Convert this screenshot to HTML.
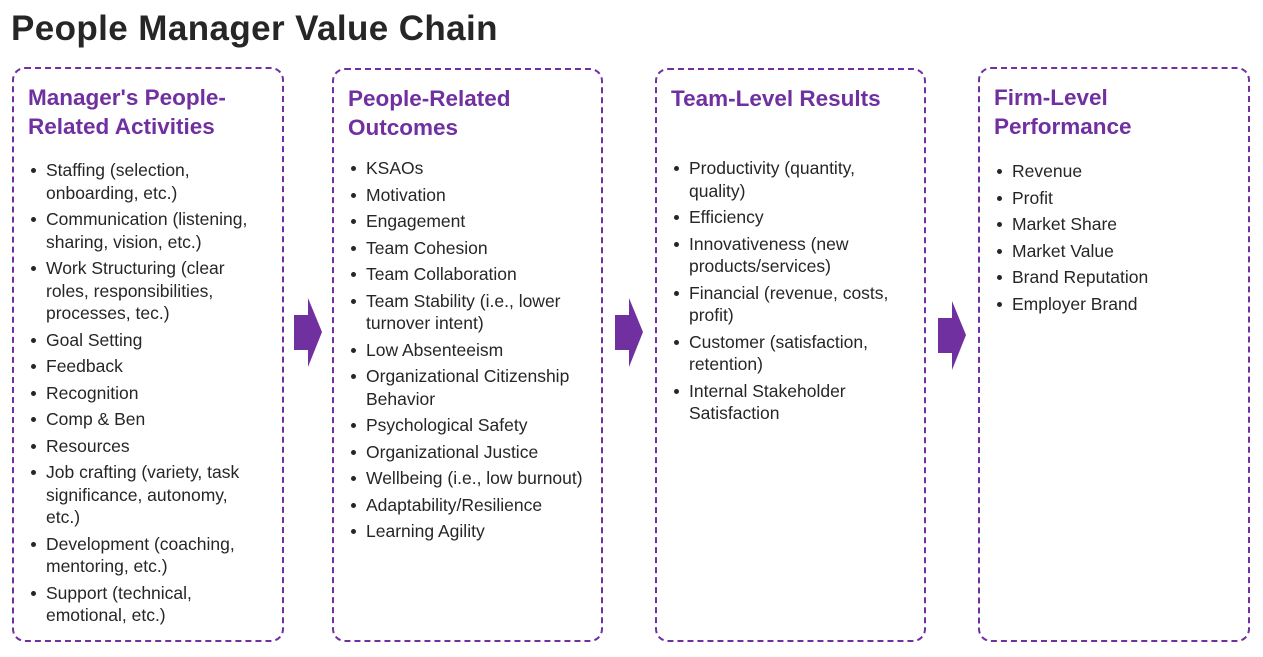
<!DOCTYPE html>
<html><head><meta charset="utf-8">
<style>
body{margin:0;width:1263px;height:657px;background:#fff;position:relative;overflow:hidden;font-family:"Liberation Sans",sans-serif;}
#title{position:absolute;left:11px;top:9px;font-size:35px;font-weight:bold;color:#262626;letter-spacing:0.4px;white-space:nowrap;}
.box{position:absolute;top:67px;height:571px;width:268px;border:2px dashed #7030A0;border-radius:13px;box-sizing:content-box;}
.box h2{position:absolute;left:14px;top:14px;margin:0;font-size:22.5px;line-height:29px;font-weight:bold;color:#7030A0;white-space:nowrap;}
.box ul{position:absolute;left:0;margin:0;padding:0;list-style:none;}
.box li{position:relative;padding-left:32px;font-size:17.5px;line-height:22.5px;color:#262626;white-space:nowrap;margin-bottom:4px;}
.box li::before{content:"";position:absolute;left:17px;top:9px;width:5px;height:5px;border-radius:50%;background:#262626;}
.arrow{position:absolute;}
</style></head><body>
<div id="title">People Manager Value Chain</div>

<div class="box" style="left:12px">
<h2>Manager's People-<br>Related Activities</h2>
<ul style="top:90px">
<li>Staffing (selection,<br>onboarding, etc.)</li>
<li>Communication (listening,<br>sharing, vision, etc.)</li>
<li>Work Structuring (clear<br>roles, responsibilities,<br>processes, tec.)</li>
<li>Goal Setting</li>
<li>Feedback</li>
<li>Recognition</li>
<li>Comp &amp; Ben</li>
<li>Resources</li>
<li>Job crafting (variety, task<br>significance, autonomy,<br>etc.)</li>
<li>Development (coaching,<br>mentoring, etc.)</li>
<li>Support (technical,<br>emotional, etc.)</li>
</ul></div>

<div class="box" style="left:332px;top:68px;height:570px;width:267px">
<h2>People-Related<br>Outcomes</h2>
<ul style="top:87px">
<li>KSAOs</li>
<li>Motivation</li>
<li>Engagement</li>
<li>Team Cohesion</li>
<li>Team Collaboration</li>
<li>Team Stability (i.e., lower<br>turnover intent)</li>
<li>Low Absenteeism</li>
<li>Organizational Citizenship<br>Behavior</li>
<li>Psychological Safety</li>
<li>Organizational Justice</li>
<li>Wellbeing (i.e., low burnout)</li>
<li>Adaptability/Resilience</li>
<li>Learning Agility</li>
</ul></div>

<div class="box" style="left:655px;top:68px;height:570px;width:267px">
<h2>Team-Level Results</h2>
<ul style="top:87px">
<li>Productivity (quantity,<br>quality)</li>
<li>Efficiency</li>
<li>Innovativeness (new<br>products/services)</li>
<li>Financial (revenue, costs,<br>profit)</li>
<li>Customer (satisfaction,<br>retention)</li>
<li>Internal Stakeholder<br>Satisfaction</li>
</ul></div>

<div class="box" style="left:978px;width:268px">
<h2>Firm-Level<br>Performance</h2>
<ul style="top:91px">
<li>Revenue</li>
<li>Profit</li>
<li>Market Share</li>
<li>Market Value</li>
<li>Brand Reputation</li>
<li>Employer Brand</li>
</ul></div>

<svg class="arrow" style="left:293px;top:297px" width="30" height="72"><polygon points="1,18 15,18 15,1 29,35 15,70 15,53 1,53" fill="#7030A0"/></svg>
<svg class="arrow" style="left:614px;top:297px" width="30" height="72"><polygon points="1,18 15,18 15,1 29,35 15,70 15,53 1,53" fill="#7030A0"/></svg>
<svg class="arrow" style="left:937px;top:300px" width="30" height="72"><polygon points="1,18 15,18 15,1 29,35 15,70 15,53 1,53" fill="#7030A0"/></svg>
</body></html>
